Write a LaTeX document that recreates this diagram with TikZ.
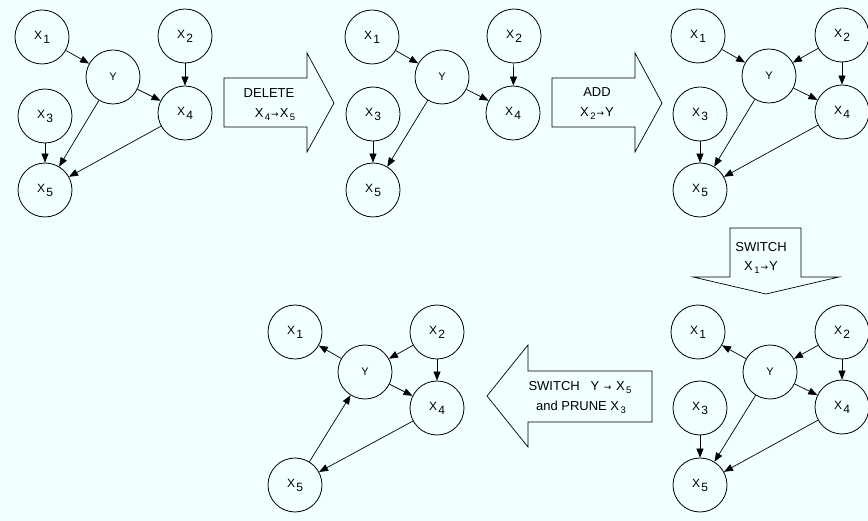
\documentclass[tikz,border=0pt]{standalone}
\usepackage{fontspec}
\setmainfont{Liberation Sans}
\newfontfamily\arrowfont{DejaVu Sans}
\usetikzlibrary{arrows.meta}
\definecolor{bgc}{RGB}{240,255,255}
\newcommand{\xv}[1]{X\kern1.2pt\raisebox{-4pt}{\fontsize{12}{13}\selectfont #1}}
\newcommand{\xa}[1]{X\kern1.5pt\raisebox{-3pt}{\fontsize{9.5}{10}\selectfont #1}}
\newcommand{\ar}{\kern1pt{\arrowfont\fontsize{9}{10}\selectfont →}\kern1pt}
\begin{document}
\begin{tikzpicture}[x=1pt,y=-1pt,
  gnode/.style={circle,draw,line width=0.8pt,minimum size=54pt,inner sep=0pt,font=\fontsize{12}{14}\selectfont},
  ynode/.style={gnode,font=\fontsize{11}{13}\selectfont},
  edge/.style={line width=0.7pt,-{Triangle[length=9pt,width=7pt]}},
  block/.style={draw,line width=0.7pt,fill=bgc,line join=miter},
  btext/.style={font=\fontsize{13}{15}\selectfont,inner sep=0pt}]
\fill[bgc] (0,0) rectangle (868,521);
\useasboundingbox (0,0) rectangle (868,521);
% graph 1
\node[gnode] (a1) at (42,37) {\xv{1}};
\node[ynode] (aY) at (113,77) {Y};
\node[gnode] (a2) at (185,36) {\xv{2}};
\node[gnode] (a3) at (45,116) {\xv{3}};
\node[gnode] (a4) at (185,113) {\xv{4}};
\node[gnode] (a5) at (45,190) {\xv{5}};
\draw[edge] (a1) -- (aY);
\draw[edge] (a2) -- (a4);
\draw[edge] (aY) -- (a4);
\draw[edge] (aY) -- (a5);
\draw[edge] (a3) -- (a5);
\draw[edge] (a4) -- (a5);
% graph 2
\node[gnode] (b1) at (372,37) {\xv{1}};
\node[ynode] (bY) at (442,77) {Y};
\node[gnode] (b2) at (514,36) {\xv{2}};
\node[gnode] (b3) at (373,114) {\xv{3}};
\node[gnode] (b4) at (513,113) {\xv{4}};
\node[gnode] (b5) at (373,190) {\xv{5}};
\draw[edge] (b1) -- (bY);
\draw[edge] (b2) -- (b4);
\draw[edge] (bY) -- (b4);
\draw[edge] (bY) -- (b5);
\draw[edge] (b3) -- (b5);
% graph 3
\node[gnode] (c1) at (698,36) {\xv{1}};
\node[ynode] (cY) at (769,76) {Y};
\node[gnode] (c2) at (842,35) {\xv{2}};
\node[gnode] (c3) at (700,114) {\xv{3}};
\node[gnode] (c4) at (842,112) {\xv{4}};
\node[gnode] (c5) at (700,190) {\xv{5}};
\draw[edge] (c1) -- (cY);
\draw[edge] (c2) -- (cY);
\draw[edge] (c2) -- (c4);
\draw[edge] (cY) -- (c4);
\draw[edge] (cY) -- (c5);
\draw[edge] (c3) -- (c5);
\draw[edge] (c4) -- (c5);
% graph 4
\node[gnode] (d1) at (698,332) {\xv{1}};
\node[ynode] (dY) at (770,372) {Y};
\node[gnode] (d2) at (842,332) {\xv{2}};
\node[gnode] (d3) at (700,408) {\xv{3}};
\node[gnode] (d4) at (842,407) {\xv{4}};
\node[gnode] (d5) at (700,485) {\xv{5}};
\draw[edge] (dY) -- (d1);
\draw[edge] (d2) -- (dY);
\draw[edge] (d2) -- (d4);
\draw[edge] (dY) -- (d4);
\draw[edge] (dY) -- (d5);
\draw[edge] (d3) -- (d5);
\draw[edge] (d4) -- (d5);
% graph 5
\node[gnode] (e1) at (295,332) {\xv{1}};
\node[ynode] (eY) at (365,372) {Y};
\node[gnode] (e2) at (437,332) {\xv{2}};
\node[gnode] (e4) at (437,408) {\xv{4}};
\node[gnode] (e5) at (295,485) {\xv{5}};
\draw[edge] (eY) -- (e1);
\draw[edge] (e2) -- (eY);
\draw[edge] (e2) -- (e4);
\draw[edge] (eY) -- (e4);
\draw[edge] (e5) -- (eY);
\draw[edge] (e4) -- (e5);
% block arrow 1
\draw[block] (224,78) -- (307,78) -- (307,53) -- (334,103) -- (307,152) -- (307,127) -- (224,127) -- cycle;
\node[btext] (t1a) at (269,93) {DELETE};
\node[btext] (t1b) at (275,115) {\xa{4}\ar\xa{5}};
% block arrow 2
\draw[block] (552,78) -- (635,78) -- (635,53) -- (662,103) -- (635,152) -- (635,127) -- (552,127) -- cycle;
\node[btext] (t2a) at (597,92) {ADD};
\node[btext] (t2b) at (597,114) {\xa{2}\ar Y};
% block arrow 3
\draw[block] (730,228) -- (801,228) -- (801,277) -- (839,277) -- (766,294) -- (693,277) -- (730,277) -- cycle;
\node[btext] (t3a) at (761,247) {SWITCH};
\node[btext] (t3b) at (761,268) {\xa{1}\ar Y};
% block arrow 4
\draw[block] (652,371) -- (528,371) -- (528,345) -- (487,396) -- (528,447) -- (528,422) -- (652,422) -- cycle;
\node[btext] (t4a) at (580,388) {SWITCH\ \ \ Y \ar\ \xa{5}};
\node[btext] (t4b) at (581,407) {and PRUNE \xa{3}};
\end{tikzpicture}
\end{document}
